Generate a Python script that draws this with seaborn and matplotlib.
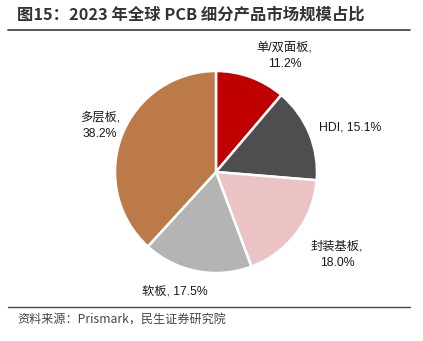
import matplotlib
matplotlib.use("Agg")
import matplotlib.pyplot as plt
import seaborn as sns
import numpy as np

categories = ["单/双面板", "HDI", "封装基板", "软板", "多层板"]
shares = [11.2, 15.1, 18.0, 17.5, 38.2]
label_texts = ["单/双面板,\n11.2%", "HDI, 15.1%", "封装基板,\n18.0%", "软板, 17.5%", "多层板,\n38.2%"]
colors = ["#C00000", "#4D4E50", "#EBC3C4", "#B4B4B4", "#BC7A48"]
title = "图15：2023 年全球 PCB 细分产品市场规模占比"
source = "资料来源：Prismark，民生证券研究院"

sns.set_theme(style="white")
plt.rcParams['font.family'] = ['Liberation Sans', 'Noto Sans CJK SC', 'DejaVu Sans']

W, H = 423, 341
fig = plt.figure(figsize=(W / 100, H / 100), dpi=100)

cx, cy, R = 216, 172, 101
xr, yr = 1.9, 1.3
ax = fig.add_axes([(cx - xr * R) / W, (H - (cy + yr * R)) / H, 2 * xr * R / W, 2 * yr * R / H])
wedges, _ = ax.pie(shares, colors=sns.color_palette(colors), startangle=90, counterclock=False,
                   radius=1.0, wedgeprops=dict(edgecolor="white", linewidth=1.8))
ax.set_xlim(-xr, xr)
ax.set_ylim(-yr, yr)
ax.axis("off")

# label placement: offsets (in radius units) relative to pie centre
label_pos = [(0.68, 1.15), (1.33, 0.44), (1.20, -0.82), (-0.41, -1.18), (-1.15, 0.46)]
for (lx, ly), t in zip(label_pos, label_texts):
    ax.text(lx, ly, t, ha="center", va="center", fontsize=8.8, color="#1a1a1a", linespacing=1.45)

# title and rules
fig.text(17 / W, 1 - 15 / H, title, fontsize=11.75, fontweight="bold", color="#333333",
         ha="left", va="center", family=['Noto Sans CJK SC', 'DejaVu Sans'])
fig.add_artist(plt.Line2D([8 / W, 410 / W], [1 - 29.5 / H, 1 - 29.5 / H], color="#4a4a4a", lw=1.3))
fig.add_artist(plt.Line2D([8 / W, 410 / W], [1 - 307 / H, 1 - 307 / H], color="#4a4a4a", lw=1.0))
fig.text(17 / W, 1 - 320 / H, source, fontsize=8.7, color="#444444", ha="left", va="center",
         family=['Noto Sans CJK SC', 'DejaVu Sans'])

fig.savefig("out.png", dpi=100)
